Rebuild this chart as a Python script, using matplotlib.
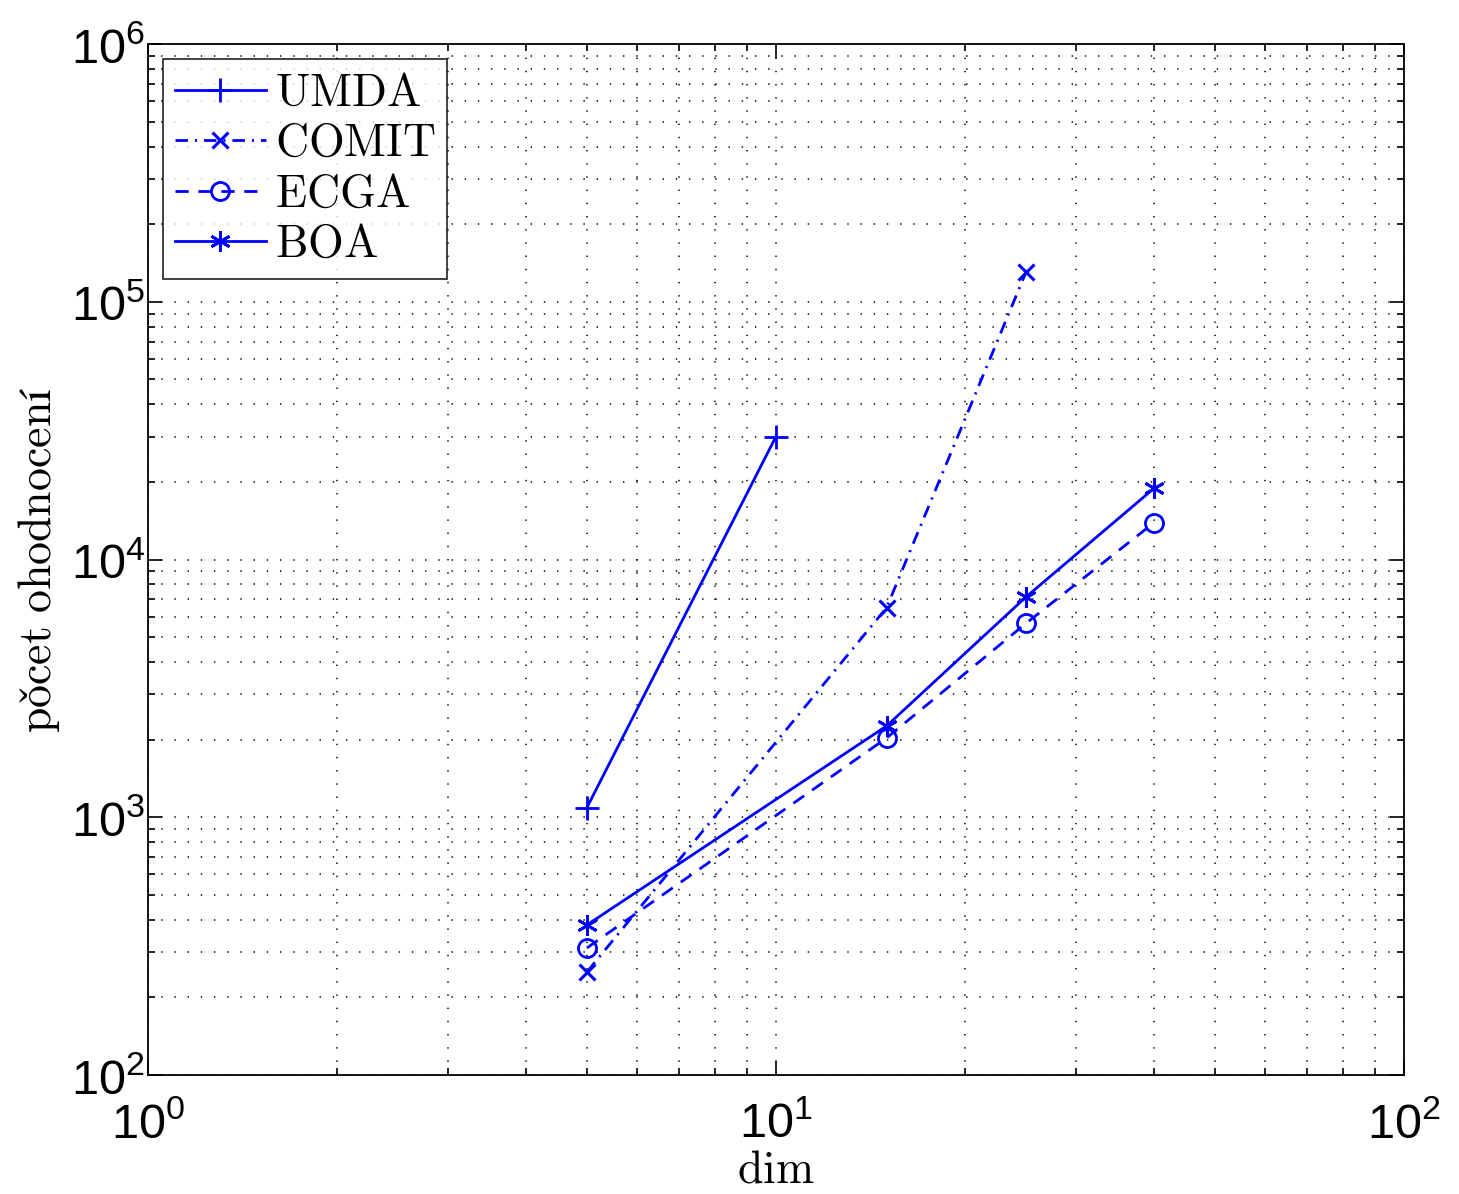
import math
import matplotlib
matplotlib.use("Agg")
import matplotlib.pyplot as plt
from matplotlib.ticker import LogLocator, FuncFormatter, NullFormatter

plt.rcParams['mathtext.fontset'] = 'custom'
plt.rcParams['mathtext.rm'] = 'Liberation Sans'
plt.rcParams['mathtext.it'] = 'Liberation Sans:italic'
plt.rcParams['mathtext.bf'] = 'Liberation Sans:bold'
plt.rcParams['lines.scale_dashes'] = False

umda_x = [5, 10]
umda_y = [1090, 30000]
comit_x = [5, 15, 25]
comit_y = [251, 6500, 130000]
ecga_x = [5, 15, 25, 40]
ecga_y = [311, 2030, 5650, 13900]
boa_x = [5, 15, 25, 40]
boa_y = [382, 2260, 7150, 18900]
labels = ['UMDA', 'COMIT', 'ECGA', 'BOA']

blue = (0, 0, 1)
fig = plt.figure(figsize=(14.59, 11.94), dpi=100)
ax = fig.add_axes([0.1014, 0.0997, 0.8609, 0.8634])

def lab(s):
    return r'$\mathrm{%s}\;\,$' % s

lw = 2.0
ax.plot(umda_x, umda_y, '-', marker='+', color=blue, lw=lw, ms=17, mew=2.0, label=lab(labels[0]))
ax.plot(comit_x, comit_y, color=blue, lw=lw, marker='x', ms=11, mew=2.2, label=lab(labels[1]),
        linestyle=(0, (9, 5, 1.5, 5)))
ax.plot(ecga_x, ecga_y, color=blue, lw=lw, marker='o', ms=13, mew=2.0, mfc='none', label=lab(labels[2]),
        linestyle=(0, (9.5, 7)))
ax.plot(boa_x, boa_y, '-', marker=(6, 2, 0), color=blue, lw=lw, ms=15, mew=2.0, label=lab(labels[3]))

ax.set_xscale('log')
ax.set_yscale('log')
ax.set_xlim(1, 100)
ax.set_ylim(100, 1e6)

fmt = FuncFormatter(lambda v, p: r'$10^{%d}$' % round(math.log10(v)))
ax.xaxis.set_major_formatter(fmt)
ax.yaxis.set_major_formatter(fmt)
ax.xaxis.set_minor_formatter(NullFormatter())
ax.yaxis.set_minor_formatter(NullFormatter())
ax.xaxis.set_minor_locator(LogLocator(base=10, subs=range(2, 10)))
ax.yaxis.set_minor_locator(LogLocator(base=10, subs=range(2, 10)))

ax.tick_params(which='both', direction='in', top=True, right=True, labelsize=35, width=1.2)
ax.tick_params(which='major', length=10)
ax.tick_params(axis='x', which='major', pad=18)
ax.tick_params(axis='y', which='major', pad=2)
ax.tick_params(which='minor', length=5)
for s in ax.spines.values():
    s.set_linewidth(1.3)

ax.grid(True, which='both', linestyle=(0, (1, 8.5)), color='black', linewidth=1.1)

xl = ax.set_xlabel(r'$\mathrm{dim}$', fontsize=33, labelpad=0)
yl = ax.set_ylabel(r'$\mathrm{po\check{c}et\ ohodnocení}$', fontsize=33, labelpad=6)
xl.set_math_fontfamily('cm')
yl.set_math_fontfamily('cm')

leg = ax.legend(loc='upper left', fontsize=33, frameon=True, fancybox=False, edgecolor='black',
                handlelength=2.0, handletextpad=0.2, borderpad=0.25, labelspacing=0.12,
                borderaxespad=0.33)
leg.get_frame().set_linewidth(1.3)
for t in leg.get_texts():
    t.set_math_fontfamily('cm')

fig.savefig('out.png', dpi=100)
